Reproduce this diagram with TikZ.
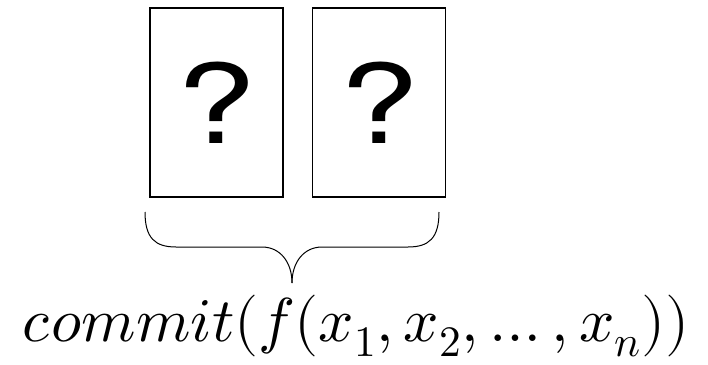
\documentclass[tikz,border=0pt]{standalone}
\usepackage{fontspec}
\usepackage{unicode-math}
\setmathfont{Latin Modern Math}
\newfontfamily\qfont{TeX Gyre Heros}
\newcommand{\qmark}{\scalebox{1.3}[1]{?}}
\usetikzlibrary{positioning}

\begin{document}
\begin{tikzpicture}[
  x=1pt, y=-1pt,
  card/.style={draw, line width=1.6pt, minimum width=133pt, minimum height=189pt, inner sep=0pt, font=\qfont\fontsize{110}{112}\selectfont},
  brc/.style={line width=1pt},
  lbl/.style={font=\fontsize{62}{66}\selectfont, inner sep=0pt}
]
  \useasboundingbox (0,0) rectangle (708,364);

  % --- hidden cards ---
  \node[card] (c1) at (216.5, 102.5) {\qmark};
  \node[card, right=28pt of c1] (c2) {\qmark};

  % --- brace under the cards ---
  \coordinate (bl) at (145, 212);
  \coordinate (br) at (439, 212);
  \coordinate (tip) at (292, 283);
  \draw[brc] (bl) .. controls (145, 238) and (155, 247) .. (176, 247)
    -- (262, 247) .. controls (280, 247) and (292, 262) .. (tip);
  \draw[brc] (br) .. controls (439, 238) and (429, 247) .. (408, 247)
    -- (322, 247) .. controls (304, 247) and (292, 262) .. (tip);

  % --- label ---
  \node[lbl, anchor=base] (commit) at (356, 341) {$commit(f(x_1, x_2, \ldots, x_n))$};
\end{tikzpicture}
\end{document}
